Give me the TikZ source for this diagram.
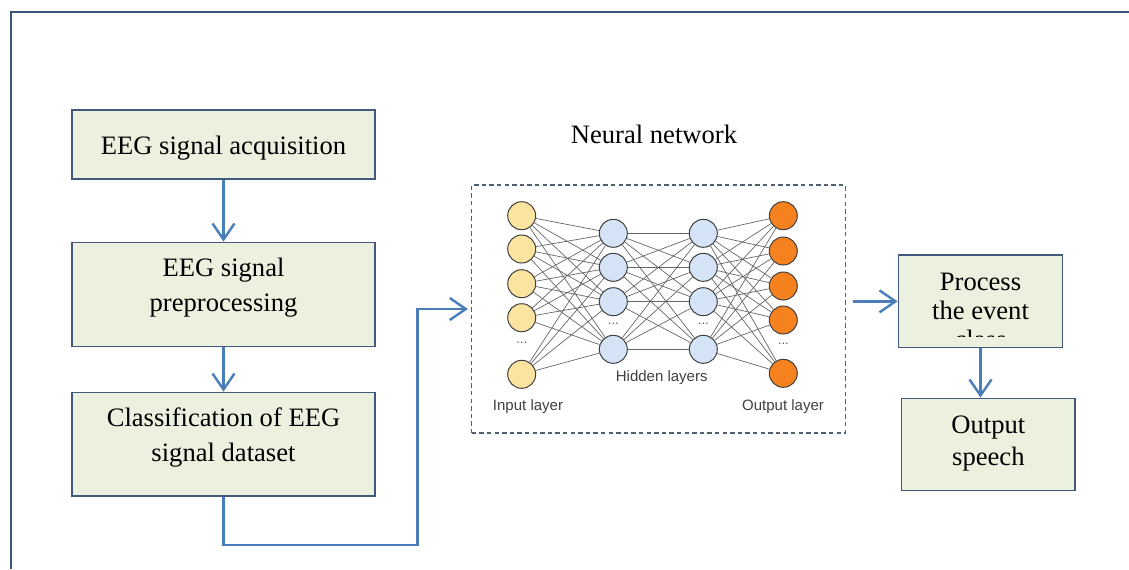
\documentclass[tikz,border=0pt]{standalone}
\usepackage{fontspec}
\setmainfont{Liberation Serif}
\setsansfont{Liberation Sans}
\usetikzlibrary{arrows.meta}

\definecolor{boxfill}{HTML}{EBF1DE}
\definecolor{boxline}{HTML}{41597A}
\definecolor{flowblue}{HTML}{4A7EBB}
\definecolor{framecol}{HTML}{3A557A}
\definecolor{nnframe}{HTML}{4E5F75}
\definecolor{inyellow}{HTML}{FBE3A0}
\definecolor{hidblue}{HTML}{D5E3F6}
\definecolor{outorange}{HTML}{F5811F}

\begin{document}
\begin{tikzpicture}[x=0.5pt, y=-0.5pt,
        stagebox/.style = {rectangle, draw=boxline, line width=0.7pt,
                           fill=boxfill, inner sep=0pt},
        stagetxt/.style = {align=center, inner sep=0pt,
                           font=\fontsize{13.3}{17.15}\selectfont},
        flow/.style     = {draw=flowblue, line width=1.2pt,
                           -{Straight Barb[length=8pt,width=11pt]}},
        neuron/.style   = {circle, draw=black!75, line width=0.5pt,
                           minimum size=14pt, inner sep=0pt},
        synapse/.style  = {draw=black!60, line width=0.35pt},
        layerlbl/.style = {font=\sffamily\fontsize{7.5}{9}\selectfont,
                           text=black!75, inner sep=0pt},
        gap/.style      = {font=\sffamily\fontsize{6.5}{7}\selectfont,
                           text=black!65, inner sep=0pt}
    ]
    \useasboundingbox (0,0) rectangle (1129,569);

    % page frame
    \draw[framecol, line width=1pt] (11,569) -- (11,12) -- (1129,12);

    % left column of processing stages
    \node[stagebox, minimum width=151.5pt, minimum height=34.5pt]
        (acq) at (223.5,144.5) {};
    \node[stagetxt] (acqtxt) at (223.5,148.1) {EEG signal acquisition};
    \node[stagebox, minimum width=151.5pt, minimum height=52.2pt]
        (prep) at (223.5,294.5) {};
    \node[stagetxt] (preptxt) at (223.5,287.6) {EEG signal\\preprocessing};
    \node[stagebox, minimum width=151.5pt, minimum height=51.85pt]
        (cls) at (223.5,444.2) {};
    \node[stagetxt] (clstxt) at (223.5,437.6) {Classification of EEG\\signal dataset};

    % neural network block
    \node[anchor=base, font=\fontsize{13.3}{16}\selectfont]
        (nntitle) at (654,143.3) {Neural network};
    \node[rectangle, draw=nnframe, line width=0.6pt,
          dash pattern=on 2.2pt off 1.6pt,
          minimum width=186.7pt, minimum height=124pt]
        (nn) at (658.4,309) {};

    \foreach \y [count=\i] in {215.7,249,283.7,317.7,374.3}
        \node[neuron, fill=inyellow] (in\i) at (521.7,\y) {};
    \foreach \y [count=\i] in {233.3,267.3,301.7,349.3} {
        \node[neuron, fill=hidblue] (ha\i) at (613.3,\y) {};
        \node[neuron, fill=hidblue] (hb\i) at (703.3,\y) {};
    }
    \foreach \y [count=\i] in {215.7,251,286,320,373.3}
        \node[neuron, fill=outorange] (out\i) at (783.3,\y) {};

    % all-to-all links between neighbouring layers
    \foreach \i in {1,...,5}
        \foreach \j in {1,...,4} {
            \draw[synapse] (in\i) -- (ha\j);
            \draw[synapse] (hb\j) -- (out\i);
        }
    \foreach \i in {1,...,4}
        \foreach \j in {1,...,4}
            \draw[synapse] (ha\i) -- (hb\j);

    \node[gap] (ingap)  at (521.7,343) {...};
    \node[gap] (hagap)  at (613.3,324) {...};
    \node[gap] (hbgap)  at (703.3,324) {...};
    \node[gap] (outgap) at (783.3,344) {...};

    \node[layerlbl, anchor=base] (inlbl)  at (528,410)   {Input layer};
    \node[layerlbl, anchor=base] (hidlbl) at (661.7,381.7) {Hidden layers};
    \node[layerlbl, anchor=base] (outlbl) at (783,410)   {Output layer};

    % right column
    \node[stagebox, minimum width=82.2pt, minimum height=46.35pt]
        (proc) at (980.5,301.35) {};
    \begin{scope}
        \clip (proc.north west) rectangle ([yshift=6pt]proc.south east);
        \node[stagetxt, font=\fontsize{13.3}{14.6}\selectfont]
            (proctxt) at (980.5,311) {Process\\the event\\class};
    \end{scope}
    \node[stagebox, minimum width=86.7pt, minimum height=46.2pt]
        (speech) at (988.4,444.5) {};
    \node[stagetxt, font=\fontsize{13.3}{15.7}\selectfont]
        (speechtxt) at (988.4,443.7) {Output\\speech};

    % flow arrows
    \coordinate (turn) at (417.3,545);
    \draw[flow] (acq) -- (prep);
    \draw[flow] (prep) -- (cls);
    \draw[flow] (cls.south) |- (turn) |- ([xshift=-1.6pt]nn.west);
    \draw[flow] ([xshift=3.5pt]nn.east |- proc.west) -- (proc.west);
    \draw[flow] (proc.south) -- (proc.south |- speech.north);
\end{tikzpicture}
\end{document}
